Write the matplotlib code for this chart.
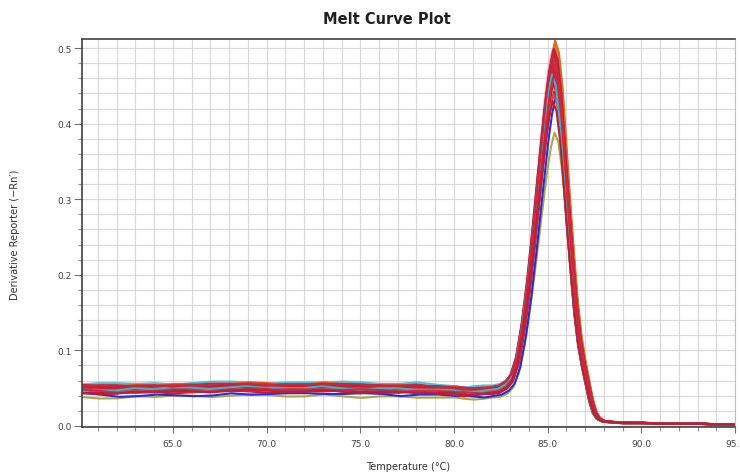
import numpy as np
import matplotlib
matplotlib.use("Agg")
import matplotlib.pyplot as plt
from matplotlib.ticker import MultipleLocator, FormatStrFormatter

# reference well (temperature in C, -Rn' derivative)
ref_temps = [60.0, 61.0, 62.0, 63.0, 64.0, 65.0, 66.0, 67.0, 68.0, 69.0,
             70.0, 71.0, 72.0, 73.0, 74.0, 75.0, 76.0, 77.0, 78.0, 79.0,
             80.0, 80.5, 81.0, 81.5, 82.0, 82.4, 82.8, 83.1, 83.4, 83.7,
             84.0, 84.3, 84.6, 84.9, 85.1, 85.3, 85.5, 85.7, 85.9, 86.1,
             86.3, 86.5, 86.7, 86.9, 87.1, 87.3, 87.5, 87.7, 88.0, 88.5,
             89.0, 90.0, 91.0, 92.0, 93.0, 94.0, 95.2]
ref_deriv = [0.050, 0.050, 0.049, 0.050, 0.050, 0.050, 0.051, 0.051, 0.052, 0.052,
             0.052, 0.052, 0.051, 0.052, 0.051, 0.051, 0.051, 0.050, 0.050, 0.049,
             0.048, 0.047, 0.047, 0.047, 0.048, 0.050, 0.056, 0.066, 0.090, 0.135,
             0.195, 0.268, 0.345, 0.420, 0.460, 0.485, 0.470, 0.425, 0.355, 0.285,
             0.220, 0.160, 0.115, 0.085, 0.060, 0.035, 0.018, 0.010, 0.006, 0.005,
             0.004, 0.004, 0.003, 0.003, 0.003, 0.002, 0.002]
REF_PEAK = 0.485

# baseline wobble shapes (60.0 .. 82.4 C), three kinds seen in the wells
wobble_a = [0.000, -0.002, -0.001, 0.001, 0.000, 0.002, 0.001, -0.001, 0.000, 0.002,
            0.001, -0.001, 0.000, 0.002, 0.000, -0.002, 0.000, 0.001, -0.001, 0.000,
            0.001, 0.000, -0.001, 0.000, 0.001, 0.000]
wobble_b = [0.002, 0.000, -0.002, -0.002, 0.000, -0.001, -0.003, -0.002, 0.000, -0.002,
            -0.001, 0.000, 0.001, -0.001, 0.000, 0.001, 0.000, -0.002, 0.000, 0.001,
            0.000, 0.001, 0.000, -0.001, 0.000, 0.000]
wobble_c = [-0.001, 0.001, 0.002, 0.000, 0.001, -0.001, 0.000, 0.002, 0.001, 0.000,
            -0.002, 0.000, 0.001, 0.000, 0.002, 0.001, -0.001, 0.000, 0.002, 0.000,
            -0.001, -0.002, 0.000, 0.001, 0.000, 0.000]

# each well: peak height, small temperature shift, baseline offset, wobble kind, colour
well_peaks = [0.390, 0.440, 0.500, 0.505, 0.470, 0.455, 0.482, 0.495, 0.462, 0.488,
              0.476, 0.450, 0.509, 0.466, 0.492, 0.458, 0.484, 0.472, 0.498, 0.444,
              0.480, 0.468, 0.490, 0.452, 0.474, 0.486, 0.460, 0.478, 0.436, 0.500,
              0.464, 0.494, 0.470, 0.430]
well_shifts = [0.07, 0.14, 0.06, 0.09, -0.03, 0.00, 0.04, -0.06, 0.03, -0.04,
               0.07, -0.07, 0.10, -0.01, 0.01, -0.09, 0.06, -0.03, 0.03, 0.04,
               -0.06, 0.09, -0.04, 0.00, -0.10, 0.03, 0.07, -0.01, 0.01, 0.04,
               -0.07, 0.00, 0.06, -0.03]
well_offsets = [-0.002, -0.004, 0.004, 0.000, 0.003, 0.002, -0.001, 0.001, 0.002, -0.002,
                0.000, 0.003, 0.001, -0.003, 0.002, 0.004, -0.001, 0.000, 0.001, -0.002,
                0.003, 0.000, -0.001, 0.002, 0.001, -0.003, 0.002, 0.000, 0.003, -0.001,
                0.001, 0.002, -0.002, 0.000]
well_wobble = ['a', 'b', 'c', 'a', 'b', 'c', 'a', 'b', 'c', 'a', 'c', 'b',
               'a', 'c', 'b', 'a', 'c', 'b', 'a', 'c', 'b', 'a', 'c', 'b',
               'a', 'b', 'c', 'a', 'b', 'c', 'a', 'c', 'b', 'a']
well_colors = ['#a8a848', '#2a2ae0', '#40c8d8', '#e08030', '#e8d030', '#40b050', '#9050c0',
               '#e890b0', '#a05a30', '#60a0e0', '#c040a0', '#f0a040', '#e06a20', '#909090',
               '#c8203c', '#d02838', '#b82840', '#c42a46', '#d43040', '#c01c3a', '#cc2a3e',
               '#b8243a', '#d02a44', '#c8283c', '#c0203c', '#d03048', '#bc2236', '#c82a40',
               '#e04050', '#c42038', '#30b8c8', '#c8263e', '#d0283c', '#b82036']

temps = np.array(ref_temps)
deriv = np.array(ref_deriv)
n_base = len(wobble_a)
wobbles = {}
for key, w in [('a', wobble_a), ('b', wobble_b), ('c', wobble_c)]:
    full = np.zeros(len(temps))
    full[:n_base] = w
    wobbles[key] = full

fig = plt.figure(figsize=(7.40, 4.77), dpi=100)
ax = fig.add_axes([82 / 740, 1 - 428 / 477, 653 / 740, 388 / 477])

for pk, sh, off, wk, col in zip(well_peaks, well_shifts, well_offsets, well_wobble, well_colors):
    y = deriv * (pk / REF_PEAK) + np.where(temps < 86.0, off, 0.0) + wobbles[wk]
    ax.plot(temps + sh, y, color=col, lw=1.5, solid_joinstyle='round')

ax.set_xlim(60.15, 95.0)
ax.set_ylim(-0.0015, 0.512)

ax.xaxis.set_major_locator(MultipleLocator(5))
ax.xaxis.set_minor_locator(MultipleLocator(1))
ax.yaxis.set_major_locator(MultipleLocator(0.1))
ax.yaxis.set_minor_locator(MultipleLocator(0.02))
ax.xaxis.set_major_formatter(FormatStrFormatter('%.1f'))
ax.yaxis.set_major_formatter(FormatStrFormatter('%.1f'))

ax.grid(True, which='both', color='#d8d8d8', lw=0.9)
ax.set_axisbelow(True)
ax.tick_params(which='major', width=0.8, color='#707070',
               labelsize=6.5, labelcolor='#404040')
ax.tick_params(which='minor', length=3, width=0.8, color='#909090')
ax.tick_params(axis='y', which='major', length=5.8, pad=1.5)
ax.tick_params(axis='x', which='major', length=4, pad=4.5)

for side in ['left', 'bottom', 'top']:
    ax.spines[side].set_color('#404040')
    ax.spines[side].set_linewidth(1.2)
ax.spines['right'].set_color('#c0c0c0')

fig.text(387 / 740, 1 - 19 / 477, 'Melt Curve Plot', ha='center', va='center',
         fontsize=10.5, fontweight='bold', color='#202020')
fig.text(408 / 740, 1 - 467 / 477, 'Temperature (°C)', ha='center', va='center',
         fontsize=7, color='#303030')
fig.text(15 / 740, 1 - 235 / 477, 'Derivative Reporter (\u2212Rn\u2032)', ha='center', va='center',
         rotation=90, fontsize=7, color='#303030')

fig.savefig('out.png', dpi=100)
